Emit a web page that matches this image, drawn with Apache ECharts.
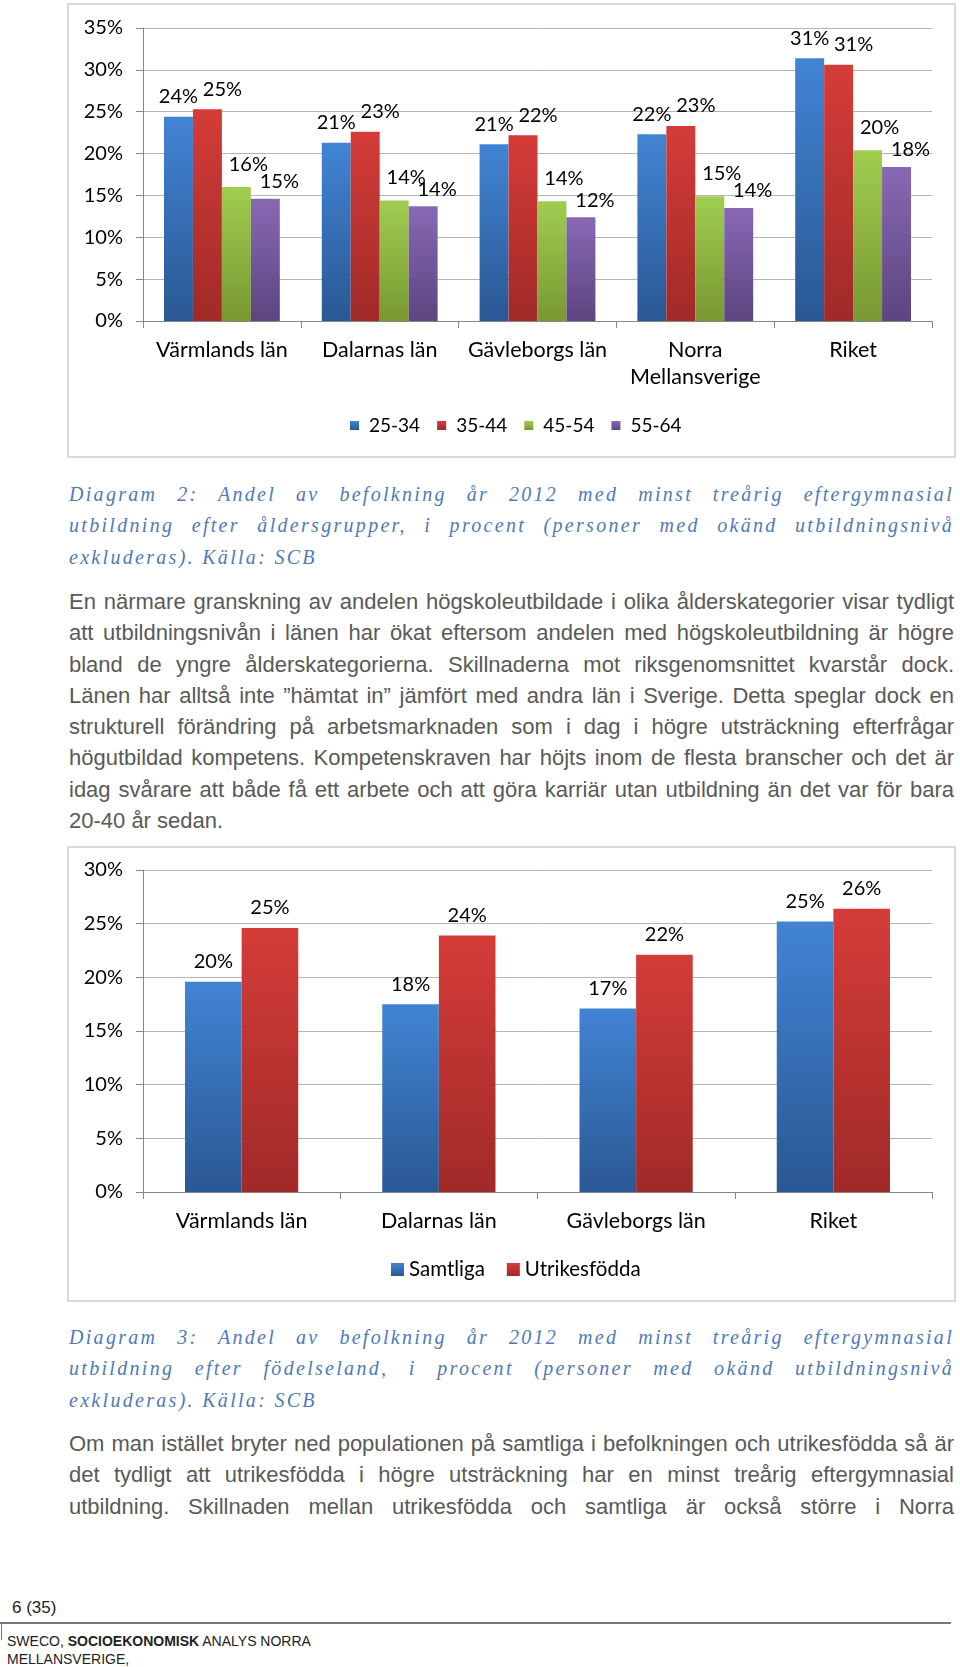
<!DOCTYPE html>
<html>
<head>
<meta charset="utf-8">
<script src="https://cdn.jsdelivr.net/npm/echarts@6/dist/echarts.min.js"></script>
<style>
  html, body { margin:0; padding:0; background:#fff; }
  body { width:960px; height:1667px; position:relative; overflow:hidden; }
  .box { position:absolute; box-sizing:border-box; border:2px solid #d9d9d9; }
  .chart { position:absolute; left:0; width:960px; }
  .cap { position:absolute; left:69px; width:885px; font-family:"Liberation Serif", serif; font-style:italic; font-size:20px; letter-spacing:2.3px; color:#4f7ab5; }
  .body { position:absolute; left:69px; width:885px; font-family:"Liberation Sans", Arial, sans-serif; font-size:22px; color:#595959; }
  .ln { height:31.3px; line-height:31.3px; white-space:nowrap; text-align:justify; text-align-last:justify; }
  .ln.last { text-align:left; text-align-last:left; }
  .foot { position:absolute; font-family:"Liberation Sans", Arial, sans-serif; color:#222; }
</style>
</head>
<body>
<div class="box" style="left:67px;top:3px;width:889px;height:455px;"></div>
<div id="c1" class="chart" style="top:0px;height:460px;"></div>

<div class="cap" style="top:479px;">
  <div class="ln">Diagram 2: Andel av befolkning år 2012 med minst treårig eftergymnasial</div>
  <div class="ln">utbildning efter åldersgrupper, i procent (personer med okänd utbildningsnivå</div>
  <div class="ln last">exkluderas). Källa: SCB</div>
</div>

<div class="body" style="top:586px;">
  <div class="ln">En närmare granskning av andelen högskoleutbildade i olika ålderskategorier visar tydligt</div>
  <div class="ln">att utbildningsnivån i länen har ökat eftersom andelen med högskoleutbildning är högre</div>
  <div class="ln">bland de yngre ålderskategorierna. Skillnaderna mot riksgenomsnittet kvarstår dock.</div>
  <div class="ln">Länen har alltså inte ”hämtat in” jämfört med andra län i Sverige. Detta speglar dock en</div>
  <div class="ln">strukturell förändring på arbetsmarknaden som i dag i högre utsträckning efterfrågar</div>
  <div class="ln">högutbildad kompetens. Kompetenskraven har höjts inom de flesta branscher och det är</div>
  <div class="ln">idag svårare att både få ett arbete och att göra karriär utan utbildning än det var för bara</div>
  <div class="ln last">20-40 år sedan.</div>
</div>

<div class="box" style="left:67px;top:846px;width:889px;height:456px;"></div>
<div id="c2" class="chart" style="top:840px;height:470px;"></div>

<div class="cap" style="top:1322px;">
  <div class="ln">Diagram 3: Andel av befolkning år 2012 med minst treårig eftergymnasial</div>
  <div class="ln">utbildning efter födelseland, i procent (personer med okänd utbildningsnivå</div>
  <div class="ln last">exkluderas). Källa: SCB</div>
</div>

<div class="body" style="top:1428px;">
  <div class="ln">Om man istället bryter ned populationen på samtliga i befolkningen och utrikesfödda så är</div>
  <div class="ln">det tydligt att utrikesfödda i högre utsträckning har en minst treårig eftergymnasial</div>
  <div class="ln">utbildning. Skillnaden mellan utrikesfödda och samtliga är också större i Norra</div>
</div>

<div class="foot" style="left:12px;top:1598px;font-size:17px;">6 (35)</div>
<div style="position:absolute;left:0;top:1622px;width:951px;height:2px;background:#777;"></div>
<div style="position:absolute;left:1px;top:1623px;width:1px;height:17px;background:#777;"></div>
<div class="foot" style="left:7px;top:1632px;font-size:14px;line-height:18px;">SWECO, <b>SOCIOEKONOMISK</b> ANALYS NORRA<br>MELLANSVERIGE,</div>

<script>
// ---- Data: Diagram 2 ----
const categories1 = ['Värmlands län', 'Dalarnas län', 'Gävleborgs län', 'Norra\nMellansverige', 'Riket'];
const ageGroups = ['25-34', '35-44', '45-54', '55-64'];
const age2534 = [24.4, 21.3, 21.1, 22.3, 31.4];
const age3544 = [25.3, 22.6, 22.2, 23.3, 30.6];
const age4554 = [16.0, 14.4, 14.3, 14.9, 20.4];
const age5564 = [14.6, 13.7, 12.4, 13.5, 18.4];
const yTicks1 = [0, 5, 10, 15, 20, 25, 30, 35];

// ---- Data: Diagram 3 ----
const categories2 = ['Värmlands län', 'Dalarnas län', 'Gävleborgs län', 'Riket'];
const groups2 = ['Samtliga', 'Utrikesfödda'];
const samtliga = [19.6, 17.5, 17.1, 25.2];
const utrikesfodda = [24.6, 23.9, 22.1, 26.4];
const yTicks2 = [0, 5, 10, 15, 20, 25, 30];

const FONT = 'Lato';
function grad(top, bottom) {
  return new echarts.graphic.LinearGradient(0, 0, 0, 1, [
    { offset: 0, color: top }, { offset: 1, color: bottom }
  ]);
}
const BLUE = grad('#4184d4', '#2a5893');
const RED = grad('#d53c38', '#a02a28');
const GREEN = grad('#a0cd50', '#789831');
const PURPLE = grad('#8868b4', '#5c4580');

function yAxis(ticks) {
  return {
    type: 'value', min: ticks[0], max: ticks[ticks.length - 1], interval: ticks[1] - ticks[0],
    axisLine: { show: true, lineStyle: { color: '#868686', width: 1 } },
    axisTick: { show: true, length: 7, lineStyle: { color: '#868686' } },
    splitLine: { lineStyle: { color: '#b5b5b5', width: 1 } },
    axisLabel: { formatter: v => v + '%', color: '#000', fontFamily: FONT, fontSize: 20, margin: 20 }
  };
}
function xAxis(cats) {
  return {
    type: 'category', data: cats,
    axisLine: { lineStyle: { color: '#868686', width: 1 } },
    axisTick: { show: true, length: 7, alignWithLabel: false, lineStyle: { color: '#868686' } },
    axisLabel: { color: '#000', fontFamily: FONT, fontSize: 21.5, lineHeight: 27, margin: 16, interval: 0 }
  };
}
function barSeries(name, data, color, offset, gap) {
  return {
    type: 'bar', name: name, data: data, barGap: '0%', barCategoryGap: gap,
    itemStyle: { color: color },
    label: {
      show: true, position: 'top', distance: 10, offset: offset,
      formatter: p => Math.round(p.value) + '%',
      color: '#000', fontFamily: FONT, fontSize: 20
    }
  };
}

const c1 = echarts.init(document.getElementById('c1'), null, { renderer: 'canvas' });
c1.setOption({
  animation: false,
  grid: { left: 143, right: 28, top: 28, bottom: 139 },
  xAxis: xAxis(categories1),
  yAxis: yAxis(yTicks1),
  legend: {
    data: ageGroups, top: 411, left: 345, itemWidth: 9, itemHeight: 9, itemGap: 17,
    icon: 'rect',
    textStyle: { color: '#000', fontFamily: FONT, fontSize: 19, padding: [0, 0, 0, 5] }
  },
  series: [
    barSeries(ageGroups[0], age2534, BLUE, [0, 0], '26.6%'),
    barSeries(ageGroups[1], age3544, RED, [15, 0], '26.6%'),
    barSeries(ageGroups[2], age4554, GREEN, [12, -3], '26.6%'),
    barSeries(ageGroups[3], age5564, PURPLE, [14, 3], '26.6%')
  ]
});

const c2 = echarts.init(document.getElementById('c2'), null, { renderer: 'canvas' });
c2.setOption({
  animation: false,
  grid: { left: 143, right: 28, top: 30, bottom: 118 },
  xAxis: xAxis(categories2),
  yAxis: yAxis(yTicks2),
  legend: {
    data: groups2, top: 414, left: 386, itemWidth: 13, itemHeight: 13, itemGap: 22,
    icon: 'rect',
    textStyle: { color: '#000', fontFamily: FONT, fontSize: 20.5, padding: [0, 0, 0, 0] }
  },
  series: [
    barSeries(groups2[0], samtliga, BLUE, [0, 0], '42.6%'),
    barSeries(groups2[1], utrikesfodda, RED, [0, 0], '42.6%')
  ]
});
</script>
</body>
</html>
